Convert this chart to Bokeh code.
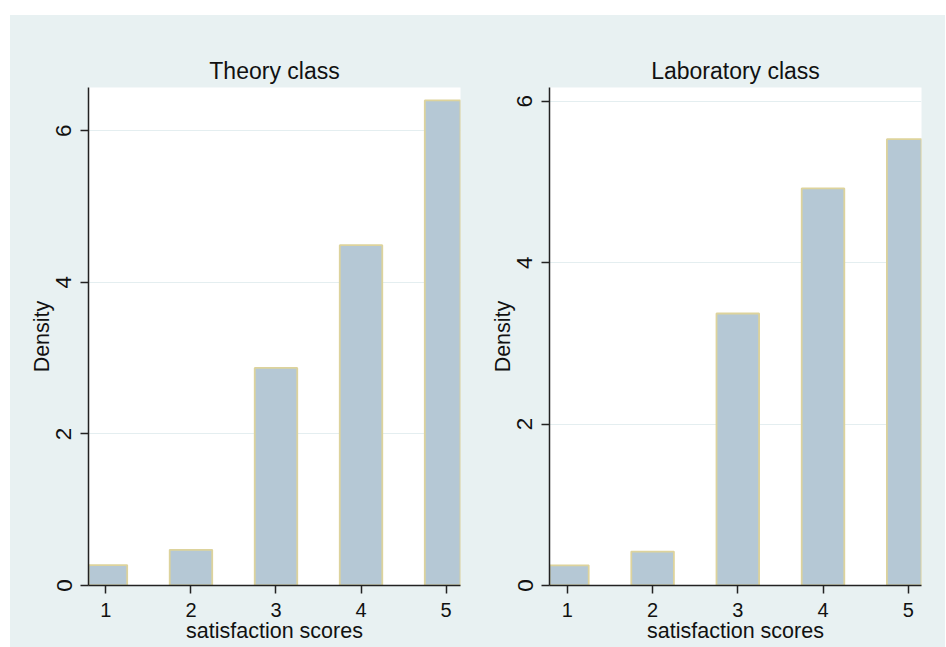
from bokeh.plotting import figure
from bokeh.layouts import row, column, Spacer
from bokeh.models import Range1d, FixedTicker
from bokeh.embed import file_html
from bokeh.resources import INLINE

scores = [1, 2, 3, 4, 5]
theory_density = [0.27, 0.47, 2.87, 4.49, 6.40]
lab_density = [0.25, 0.42, 3.37, 4.92, 5.53]
y_ticks = [0, 2, 4, 6]
panel_titles = ["Theory class", "Laboratory class"]
x_label = "satisfaction scores"
y_label = "Density"

BG = "#E8F1F2"
FONT = "Liberation Sans"


def make_panel(title, values, x_lo, x_hi, y_max, width, left, right):
    p = figure(width=width, height=632, output_backend="svg", toolbar_location=None,
               x_range=Range1d(x_lo, x_hi), y_range=Range1d(0, y_max),
               min_border_left=left, min_border_right=right,
               min_border_top=72, min_border_bottom=62,
               background_fill_color="white", border_fill_color=BG,
               outline_line_color=None, title=title)
    p.title.text_font = FONT
    p.title.text_font_size = "23px"
    p.title.text_font_style = "normal"
    p.title.text_color = "#111111"
    p.title.align = "center"
    p.title.standoff = 7

    p.xgrid.visible = False
    p.ygrid.ticker = FixedTicker(ticks=y_ticks)
    p.ygrid.grid_line_color = "#E4EEF0"
    p.ygrid.grid_line_width = 1.2

    p.vbar(x=scores, top=values, width=0.5, bottom=0,
           fill_color="#B5C8D5", line_color="#DDD39C", line_width=1.8)

    for ax in (p.xaxis[0], p.yaxis[0]):
        ax.axis_line_color = "#222222"
        ax.axis_line_width = 1.5
        ax.major_tick_line_color = "#222222"
        ax.major_tick_line_width = 1.5
        ax.major_tick_out = 8
        ax.major_tick_in = 0
        ax.minor_tick_line_color = None
        ax.major_label_text_font = FONT
        ax.major_label_text_color = "#111111"
        ax.axis_label_text_font = FONT
        ax.axis_label_text_font_size = "21.5px"
        ax.axis_label_text_font_style = "normal"
        ax.axis_label_text_color = "#111111"

    p.xaxis.ticker = FixedTicker(ticks=scores)
    p.xaxis.axis_label = x_label
    p.xaxis.major_label_text_font_size = "20px"
    p.xaxis.major_label_standoff = 9
    p.xaxis.axis_label_standoff = -1

    p.yaxis.ticker = FixedTicker(ticks=y_ticks)
    p.yaxis.axis_label = y_label
    p.yaxis.major_label_text_font_size = "22.5px"
    p.yaxis.major_label_orientation = "vertical"
    p.yaxis.major_label_standoff = 9
    p.yaxis.axis_label_standoff = 0
    return p


p1 = make_panel(panel_titles[0], theory_density, 0.795, 5.17, 6.57, 460, 78, 10)
p2 = make_panel(panel_titles[1], lab_density, 0.79, 5.156, 6.17, 475, 79, 24)

panels = row(p1, p2, styles={"background-color": BG})
layout = column(Spacer(height=15), row(Spacer(width=10), panels))

open("out.html", "w").write(file_html(layout, INLINE))
